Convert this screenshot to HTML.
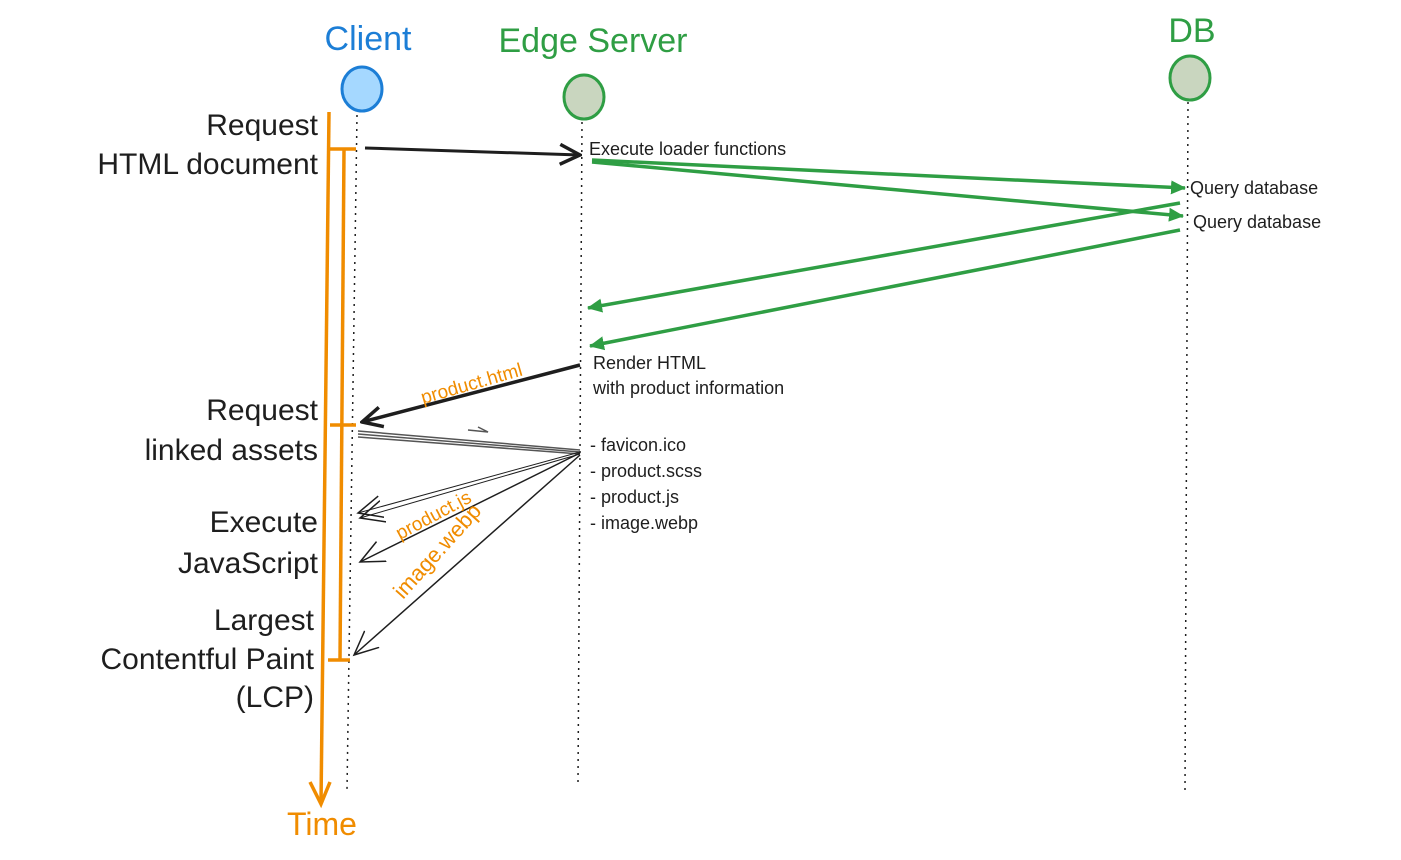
<!DOCTYPE html>
<html><head><meta charset="utf-8"><style>
html,body{margin:0;padding:0;background:#fff;}
svg{display:block;}
text{font-family:"Liberation Sans","DejaVu Sans",sans-serif;}
</style></head><body>
<svg width="1401" height="860" viewBox="0 0 1401 860" xmlns="http://www.w3.org/2000/svg">
<defs>
<marker id="ab" markerWidth="24" markerHeight="24" refX="22" refY="12" orient="auto" markerUnits="userSpaceOnUse"><path d="M2,2 L22,12 L2,22" fill="none" stroke="#1e1e1e" stroke-width="3.5"/></marker>
<marker id="ag" markerWidth="16" markerHeight="16" refX="14" refY="8" orient="auto" markerUnits="userSpaceOnUse"><path d="M0,1 L15,8 L0,15 Z" fill="#2f9e44"/></marker>
<marker id="at" markerWidth="26" markerHeight="26" refX="24" refY="13" orient="auto" markerUnits="userSpaceOnUse"><path d="M0,2 L24,13 L0,24" fill="none" stroke="#1e1e1e" stroke-width="1.5"/></marker>
</defs>
<text x="368" y="50" font-size="34" fill="#1c7ed6" text-anchor="middle">Client</text>
<text x="593" y="52" font-size="34" fill="#2f9e44" text-anchor="middle">Edge Server</text>
<text x="1192" y="42" font-size="34" fill="#2f9e44" text-anchor="middle">DB</text>
<ellipse cx="362" cy="89" rx="20" ry="22" fill="#a5d8ff" stroke="#1c7ed6" stroke-width="3"/>
<ellipse cx="584" cy="97" rx="20" ry="22" fill="#c9d6bf" stroke="#2f9e44" stroke-width="3"/>
<ellipse cx="1190" cy="78" rx="20" ry="22" fill="#c9d6bf" stroke="#2f9e44" stroke-width="3"/>
<g stroke="#1e1e1e" stroke-width="1.5" stroke-dasharray="2,5">
<line x1="357" y1="115" x2="347" y2="790"/>
<line x1="582" y1="122" x2="578" y2="782"/>
<line x1="1188" y1="102" x2="1185" y2="790"/>
</g>
<g stroke="#f08c00" stroke-width="3.5" fill="none">
<line x1="329" y1="112" x2="321" y2="803"/>
<path d="M310,782 L321,804 L330,782"/>
<line x1="344" y1="150" x2="340" y2="660"/>
<line x1="330" y1="149" x2="356" y2="149"/>
<line x1="328" y1="660" x2="350" y2="660"/>
<line x1="330" y1="425" x2="356" y2="425"/>
</g>
<text x="322" y="835" font-size="32" fill="#f08c00" text-anchor="middle">Time</text>
<g font-size="30" fill="#1e1e1e" text-anchor="end">
<text x="318" y="135">Request</text>
<text x="318" y="174">HTML document</text>
<text x="318" y="420">Request</text>
<text x="318" y="460">linked assets</text>
<text x="318" y="532">Execute</text>
<text x="318" y="573">JavaScript</text>
<text x="314" y="630">Largest</text>
<text x="314" y="669">Contentful Paint</text>
<text x="314" y="707">(LCP)</text>
</g>
<line x1="365" y1="148" x2="580" y2="155" stroke="#1e1e1e" stroke-width="3" marker-end="url(#ab)"/>
<g stroke="#2f9e44" stroke-width="3.5">
<line x1="592" y1="160" x2="1185" y2="188" marker-end="url(#ag)"/>
<line x1="592" y1="162" x2="1183" y2="216" marker-end="url(#ag)"/>
<line x1="1180" y1="203" x2="588" y2="308" marker-end="url(#ag)"/>
<line x1="1180" y1="230" x2="590" y2="346" marker-end="url(#ag)"/>
</g>
<line x1="580" y1="365" x2="362" y2="422" stroke="#1e1e1e" stroke-width="3.5" marker-end="url(#ab)"/>
<text x="0" y="0" font-size="19" fill="#f08c00" transform="translate(423,404) rotate(-16)">product.html</text>
<g stroke="#555" stroke-width="1.5">
<line x1="358" y1="431" x2="580" y2="450"/>
<line x1="358" y1="434" x2="580" y2="452"/>
<line x1="358" y1="437" x2="580" y2="454"/>
<path d="M468,430 L488,432 L478,427" fill="none"/>
</g>
<g fill="none">
<line x1="580" y1="452" x2="358" y2="513" stroke="#1e1e1e" stroke-width="1" marker-end="url(#at)"/>
<line x1="580" y1="454" x2="360" y2="518" stroke="#1e1e1e" stroke-width="1" marker-end="url(#at)"/>
<line x1="580" y1="453" x2="360" y2="562" stroke="#1e1e1e" stroke-width="1.5" marker-end="url(#at)"/>
<line x1="580" y1="455" x2="354" y2="655" stroke="#1e1e1e" stroke-width="1.5" marker-end="url(#at)"/>
</g>
<text x="0" y="0" font-size="19" fill="#f08c00" transform="translate(400,540) rotate(-28)">product.js</text>
<text x="0" y="0" font-size="22" fill="#f08c00" transform="translate(403,600) rotate(-48)">image.webp</text>
<g font-size="18" fill="#1e1e1e">
<text x="589" y="155">Execute loader functions</text>
<text x="1190" y="194">Query database</text>
<text x="1193" y="228">Query database</text>
<text x="593" y="369">Render HTML</text>
<text x="593" y="394">with product information</text>
<text x="590" y="451">- favicon.ico</text>
<text x="590" y="477">- product.scss</text>
<text x="590" y="503">- product.js</text>
<text x="590" y="529">- image.webp</text>
</g>
</svg>
</body></html>
